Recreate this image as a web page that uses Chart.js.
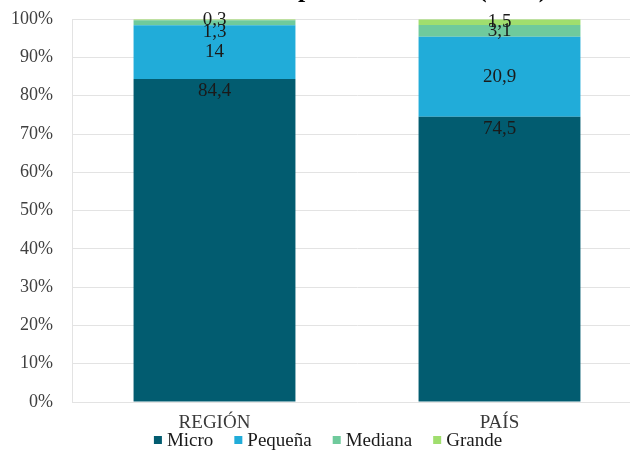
<!DOCTYPE html>
<html>
<head>
<meta charset="utf-8">
<script src="https://cdn.jsdelivr.net/npm/chart.js@4/dist/chart.umd.min.js"></script>
<style>
  html, body { margin: 0; padding: 0; overflow: hidden; background: #fff; width: 630px; height: 452px; }
  #wrap { position: absolute; left: 0; top: -25px; width: 650px; height: 477px; }
</style>
</head>
<body>
<div id="wrap"><canvas id="chart"></canvas></div>
<script>
// Company size structure, share of firms by size class (%)
const categories = ['REGIÓN', 'PAÍS'];
const seriesNames = ['Micro', 'Pequeña', 'Mediana', 'Grande'];
const micro = [84.4, 74.5];
const pequena = [14, 20.9];
const mediana = [1.3, 3.1];
const grande = [0.3, 1.5];
const percentTicks = [0, 10, 20, 30, 40, 50, 60, 70, 80, 90, 100];

const colors = ['#025c70', '#21acd9', '#6fca9c', '#a0de6e'];
const serif = '"Liberation Serif", "Times New Roman", serif';

// Value labels inside each stacked segment (comma as decimal separator)
const barLabels = {
  id: 'barLabels',
  afterDatasetsDraw(chart) {
    const ctx = chart.ctx;
    ctx.save();
    ctx.font = '19px ' + serif;
    ctx.fillStyle = '#1a1a1a';
    ctx.textAlign = 'center';
    ctx.textBaseline = 'middle';
    const n = chart.data.labels.length;
    for (let i = 0; i < n; i++) {
      let prevY = null;
      for (let d = chart.data.datasets.length - 1; d >= 0; d--) {
        const ds = chart.data.datasets[d];
        const bar = chart.getDatasetMeta(d).data[i];
        const v = ds.data[i];
        let y = ds.labelAnchor === 'end' ? bar.y + 12 : (bar.y + bar.base) / 2;
        // keep thin neighbouring segments from printing on top of each other
        if (prevY !== null && y - prevY < 6) y = prevY + 12.5;
        ctx.fillText(String(v).replace('.', ','), bar.x, y);
        prevY = y;
      }
    }
    ctx.restore();
  }
};

// Compact legend row under the category labels
const bottomLegend = {
  id: 'bottomLegend',
  afterDraw(chart) {
    const ctx = chart.ctx;
    const box = 8, gapText = 5, gapItem = 21;
    ctx.save();
    ctx.font = '19px ' + serif;
    ctx.textBaseline = 'middle';
    ctx.textAlign = 'left';
    const items = chart.data.datasets.map(ds => ({
      text: ds.label, color: ds.backgroundColor, w: ctx.measureText(ds.label).width
    }));
    const total = items.reduce((s, it) => s + box + gapText + it.w, 0) + gapItem * (items.length - 1);
    let x = chart.width / 2 - total / 2 + 3;
    const y = chart.chartArea.bottom + 39;
    items.forEach(it => {
      ctx.fillStyle = it.color;
      ctx.fillRect(x, y - box / 2 - 1, box, box);
      ctx.fillStyle = '#1a1a1a';
      ctx.fillText(it.text, x + box + gapText, y);
      x += box + gapText + it.w + gapItem;
    });
    ctx.restore();
  }
};

const seriesValues = [micro, pequena, mediana, grande];
const datasets = seriesNames.map((name, k) => ({
  label: name,
  data: seriesValues[k],
  backgroundColor: colors[k],
  borderWidth: 0,
  barPercentage: 0.568,
  categoryPercentage: 1,
  labelAnchor: k === 0 ? 'end' : 'center'
}));

new Chart(document.getElementById('chart'), {
  type: 'bar',
  data: { labels: categories, datasets },
  options: {
    responsive: true,
    maintainAspectRatio: false,
    animation: false,
    layout: { padding: { left: 10, right: 8, top: 0, bottom: 20 } },
    plugins: {
      legend: { display: false },
      tooltip: { enabled: false },
      title: {
        display: true,
        text: 'Estructura de empresas formales (2020)',
        color: '#000',
        font: { family: serif, size: 26, weight: 'bold' },
        padding: { top: 0, bottom: 13 }
      }
    },
    scales: {
      x: {
        stacked: true,
        afterFit: s => { s.height = 30; },
        grid: { display: false },
        border: { display: false },
        ticks: { color: '#3a3a3a', padding: 2, font: { family: serif, size: 19 } }
      },
      y: {
        stacked: true,
        min: 0,
        max: 100,
        afterBuildTicks: s => { s.ticks = percentTicks.map(v => ({ value: v })); },
        afterFit: s => { s.width = 62; },
        grid: { color: '#e3e3e3', drawTicks: false },
        border: { display: true, color: '#e3e3e3' },
        ticks: {
          color: '#404040',
          padding: 19,
          font: { family: serif, size: 18 },
          callback: v => v + '%'
        }
      }
    }
  },
  plugins: [barLabels, bottomLegend]
});
</script>
</body>
</html>
